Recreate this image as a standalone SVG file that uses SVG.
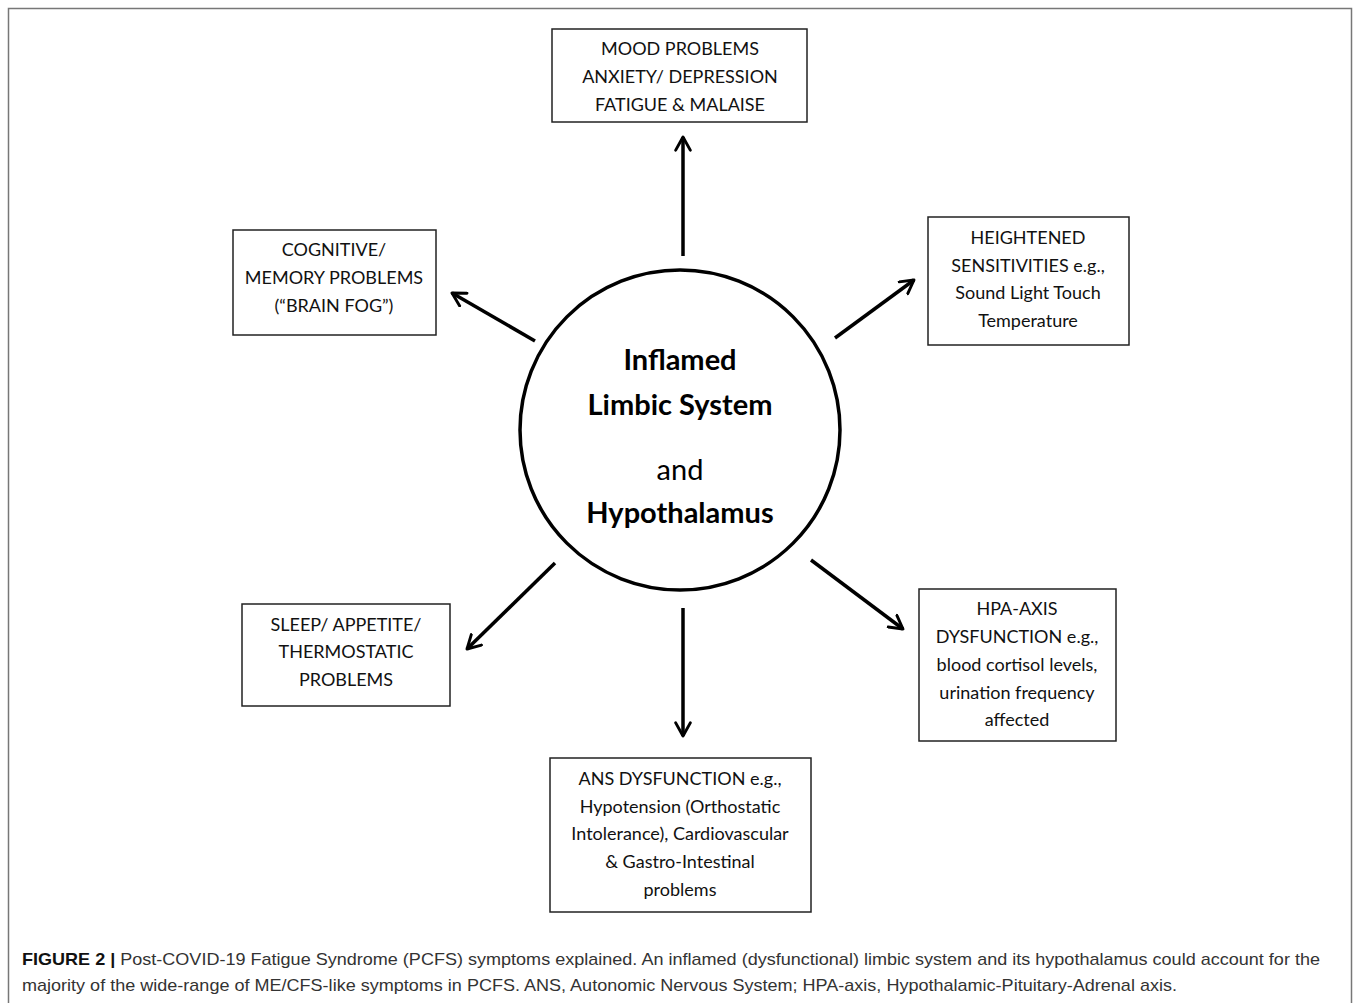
<svg xmlns="http://www.w3.org/2000/svg" width="1358" height="1003" viewBox="0 0 1358 1003">
<style>
.box{fill:#fff;stroke:#222;stroke-width:1.5}
.t{font-family:Lato,"Open Sans",sans-serif;font-size:18px;fill:#111;text-anchor:middle}
.c{font-family:Lato,"Open Sans",sans-serif;font-size:29px;fill:#000;text-anchor:middle}
.cap{font-family:"Liberation Sans",Arial,sans-serif;font-size:17px;fill:#333}
.arr{stroke:#000;stroke-width:3.5;fill:none;marker-end:url(#ah)}
</style>
<defs>
<marker id="ah" viewBox="0 0 12 12" refX="10" refY="6" markerWidth="5" markerHeight="5" orient="auto" markerUnits="strokeWidth">
<path d="M1,1 L10,6 L1,11" fill="none" stroke="#000" stroke-width="2" stroke-linecap="round" stroke-linejoin="round"/>
</marker>
</defs>
<rect width="1358" height="1003" fill="#fff"/>
<path d="M8.5,1003 V8.5 H1351.5 V1003" fill="none" stroke="#777" stroke-width="1.5"/>
<g id="connectors">
<line class="arr" x1="683" y1="256" x2="683" y2="137"/>
<line class="arr" x1="535" y1="341" x2="452" y2="293"/>
<line class="arr" x1="835" y1="338" x2="914" y2="280"/>
<line class="arr" x1="555" y1="563" x2="467" y2="649"/>
<line class="arr" x1="811" y1="560" x2="903" y2="629"/>
<line class="arr" x1="683" y1="608" x2="683" y2="736"/>
</g>
<g id="center">
<circle cx="680" cy="430" r="160" fill="#fff" stroke="#000" stroke-width="3.5"/>
<text class="c" x="680" y="370" font-weight="bold">Inflamed</text>
<text class="c" x="680" y="415" font-weight="bold">Limbic System</text>
<text class="c" x="680" y="480">and</text>
<text class="c" x="680" y="523" font-weight="bold">Hypothalamus</text>
</g>
<g id="mood">
<rect class="box" x="552" y="29" width="255" height="93"/>
<text class="t" x="680" y="55">MOOD PROBLEMS</text>
<text class="t" x="680" y="83">ANXIETY/ DEPRESSION</text>
<text class="t" x="680" y="111">FATIGUE &amp; MALAISE</text>
</g>
<g id="cognitive">
<rect class="box" x="233" y="230" width="203" height="105"/>
<text class="t" x="334" y="256">COGNITIVE/</text>
<text class="t" x="334" y="284">MEMORY PROBLEMS</text>
<text class="t" x="334" y="312">(“BRAIN FOG”)</text>
</g>
<g id="heightened">
<rect class="box" x="928" y="217" width="201" height="128"/>
<text class="t" x="1028" y="244">HEIGHTENED</text>
<text class="t" x="1028" y="272">SENSITIVITIES e.g.,</text>
<text class="t" x="1028" y="299">Sound Light Touch</text>
<text class="t" x="1028" y="327">Temperature</text>
</g>
<g id="sleep">
<rect class="box" x="242" y="604" width="208" height="102"/>
<text class="t" x="346" y="631">SLEEP/ APPETITE/</text>
<text class="t" x="346" y="658">THERMOSTATIC</text>
<text class="t" x="346" y="686">PROBLEMS</text>
</g>
<g id="hpa">
<rect class="box" x="919" y="589" width="197" height="152"/>
<text class="t" x="1017" y="615">HPA-AXIS</text>
<text class="t" x="1017" y="643">DYSFUNCTION e.g.,</text>
<text class="t" x="1017" y="671">blood cortisol levels,</text>
<text class="t" x="1017" y="699">urination frequency</text>
<text class="t" x="1017" y="726">affected</text>
</g>
<g id="ans">
<rect class="box" x="550" y="758" width="261" height="154"/>
<text class="t" x="680" y="785">ANS DYSFUNCTION e.g.,</text>
<text class="t" x="680" y="813">Hypotension (Orthostatic</text>
<text class="t" x="680" y="840">Intolerance), Cardiovascular</text>
<text class="t" x="680" y="868">&amp; Gastro-Intestinal</text>
<text class="t" x="680" y="896">problems</text>
</g>
<g id="caption">
<text class="cap" x="22" y="965" textLength="1298" lengthAdjust="spacingAndGlyphs"><tspan font-weight="bold" fill="#111">FIGURE 2 |</tspan> Post-COVID-19 Fatigue Syndrome (PCFS) symptoms explained. An inflamed (dysfunctional) limbic system and its hypothalamus could account for the</text>
<text class="cap" x="22" y="991" textLength="1155" lengthAdjust="spacingAndGlyphs">majority of the wide-range of ME/CFS-like symptoms in PCFS. ANS, Autonomic Nervous System; HPA-axis, Hypothalamic-Pituitary-Adrenal axis.</text>
</g>
</svg>
